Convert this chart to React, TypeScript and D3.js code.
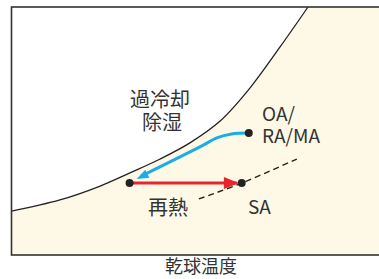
import * as d3 from 'd3'

// saturation curve (dry-bulb %, humidity %)
const satCurve: [number, number][] = [
  [0, 17.7], [13.0, 22.2], [23.8, 27.8], [31.8, 33.1], [39.9, 38.7],
  [47.9, 45.2], [56.0, 54.0], [64.0, 67.3], [72.1, 83.9], [79.6, 100],
]
const coolPath: [number, number][] = [
  [63.7, 49.2], [59.1, 48.8], [55.1, 47.2], [51.1, 44.0], [33.6, 30.6],
]
const reheatLine: [number, number][] = [[31.7, 29.0], [60.5, 29.0]]
const shrLine: [number, number][] = [[50.3, 22.6], [61.8, 29.0], [76.6, 38.7]]
const states = [
  { name: 'cool', x: 31.7, y: 29.0 },
  { name: 'SA', x: 61.8, y: 29.0 },
  { name: 'OA', x: 63.7, y: 49.2 },
]

const ink = '#333'
const cream = '#fef9e6'
const font = '"Noto Sans CJK JP", "Noto Sans", sans-serif'

export default function App() {
  const W = 379, H = 279
  const x = d3.scaleLinear().domain([0, 100]).range([11.5, 384])
  const y = d3.scaleLinear().domain([0, 100]).range([255, 7])

  const line = d3.line<[number, number]>().x(d => x(d[0])).y(d => y(d[1]))
  const bend = d3.line<[number, number]>().x(d => x(d[0])).y(d => y(d[1])).curve(d3.curveCatmullRom)

  const satD = bend(satCurve) || ''
  const regionD = satD + `L${x(100)},${y(100)}L${x(100)},${y(0)}L${x(0)},${y(0)}Z`

  // arrow heads
  const rEnd = reheatLine[1]
  const rx = x(rEnd[0]), ry = y(rEnd[1])
  const cEnd = coolPath[coolPath.length - 1]
  const cPrev = coolPath[coolPath.length - 2]
  const cx = x(cEnd[0]), cy = y(cEnd[1])
  const ang = Math.atan2(cy - y(cPrev[1]), cx - x(cPrev[0]))
  const head = (tx: number, ty: number, a: number, len: number, half: number) => {
    const bx = tx - len * Math.cos(a), by = ty - len * Math.sin(a)
    const px = -Math.sin(a) * half, py = Math.cos(a) * half
    return `M${tx},${ty}L${bx + px},${by + py}L${bx - px},${by - py}Z`
  }

  return (
    <svg width={W} height={H} style={{ position: 'absolute', left: 0, top: 0, background: '#fff' }}>
      <path d={regionD} fill={cream} />
      <path d={satD} fill="none" stroke="#222" strokeWidth={1.3} />

      <path d={bend(shrLine) || ''} fill="none" stroke="#222" strokeWidth={1.4} strokeDasharray="6,4" />

      <path d={line(reheatLine) || ''} stroke="#e8242c" strokeWidth={3} fill="none" />
      <path d={head(rx + 2, ry, 0, 15, 6)} fill="#e8242c" />

      <path d={bend(coolPath.slice(0, -1).concat([[cEnd[0] + 1.2, cEnd[1] + 1.2]])) || ''}
        stroke="#19aee8" strokeWidth={3} fill="none" />
      <path d={head(cx, cy, ang, 12, 4.5)} fill="#19aee8" />

      {states.map(s => (
        <circle key={s.name} cx={x(s.x)} cy={y(s.y)} r={4} fill="#222" />
      ))}

      <rect x={11.5} y={7} width={W + 10} height={248} fill="none" stroke={ink} strokeWidth={1.6} />

      <g fontFamily={font} fill={ink} fontSize={19}>
        <text x={160} y={107} textAnchor="middle" fontSize={20}>過冷却</text>
        <text x={162} y={130} textAnchor="middle" fontSize={20}>除湿</text>
        <text x={262} y={121}>OA/</text>
        <text x={262} y={143}>RA/MA</text>
        <text x={248} y={214}>SA</text>
        <text x={148} y={215} fontSize={20}>再熱</text>
        <text x={201} y={273} textAnchor="middle" fontSize={18}>乾球温度</text>
      </g>
    </svg>
  )
}
